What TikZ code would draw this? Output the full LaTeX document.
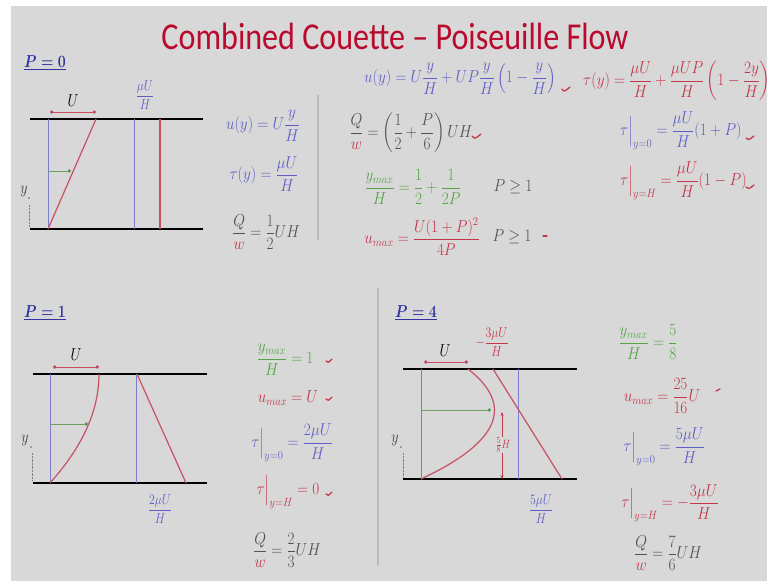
\documentclass[tikz,border=0pt]{standalone}
\usepackage{amsmath}
\usepackage{amssymb}
\usepackage{graphicx}
\usepackage{fontspec}
\newfontfamily\titlefont{Carlito}
\usetikzlibrary{arrows.meta}
\definecolor{bgc}{RGB}{216,216,216}
\definecolor{cB}{RGB}{95,95,200}
\definecolor{cR}{RGB}{195,55,75}
\definecolor{cG}{RGB}{85,165,70}
\definecolor{cK}{RGB}{80,80,90}
\definecolor{cT}{RGB}{185,10,45}
\definecolor{cP}{RGB}{50,50,160}
\definecolor{lB}{RGB}{125,125,205}
\definecolor{lR}{RGB}{200,80,100}
\definecolor{lG}{RGB}{110,160,100}
\definecolor{dv}{RGB}{185,185,185}
\newcommand{\nx}[1]{\scalebox{0.88}[1]{#1}}
\newcommand{\nl}[1]{\scalebox{0.82}[1]{#1}}
\newcommand{\QW}{\dfrac{Q}{\color{cR}w}}
\tikzset{
  plate/.style={line width=2.6pt, black},
  bline/.style={line width=0.9pt, lB},
  rline/.style={line width=1.2pt, lR},
  garrow/.style={line width=0.8pt, lG, -{Circle[length=3.5pt,fill=black!70]}},
  uarrow/.style={line width=1pt, lR, {Circle[length=3.5pt,fill=black!80]}-{Circle[length=3.5pt,fill=black!80]}},
  eq/.style={inner sep=0pt, font=\fontsize{16.5}{19}\selectfont},
  smeq/.style={inner sep=0pt, font=\fontsize{14}{16}\selectfont},
  lbl/.style={inner sep=0pt, font=\fontsize{17}{20}\selectfont},
  plbl/.style={inner sep=0pt, text=cP, font=\fontsize{17.5}{20}\selectfont},
  ydot/.style={line width=0.4pt, black!50, densely dotted},
  tick/.style={line width=1.3pt, cR, line cap=round},
  divider/.style={line width=1.2pt, dv},
  dim/.style={line width=0.9pt, cR, -{Stealth[length=4pt]}}
}
\begin{document}
\begin{tikzpicture}[x=1pt,y=-1pt]
\useasboundingbox (0,0) rectangle (767,581);
\fill[white] (0,0) rectangle (767,581);
\fill[bgc] (11,6) rectangle (767,581);
\clip (0,0) rectangle (767,581);

% title
\node[inner sep=0pt, text=cT, font=\titlefont\fontsize{38}{40}\selectfont] (title) at (395,36) {\scalebox{0.845}[1]{Combined Couette – Poiseuille Flow}};

% ================= P = 0 =================
\node[plbl] (p0) at (45,63) {\nl{$\underline{\boldsymbol{P=0}}$}};
\coordinate (a1) at (30,119); \coordinate (a2) at (203,119);
\coordinate (a3) at (30,229); \coordinate (a4) at (203,229);
\draw[plate] (a1) -- (a2);
\draw[plate] (a3) -- (a4);
\coordinate (aL1) at (48,119); \coordinate (aL0) at (48,229);
\draw[bline] (aL1) -- (aL0);
\coordinate (aU) at (96,119);
\draw[rline] (aL0) -- (aU);
\coordinate (aua) at (50,112); \coordinate (aub) at (96,112);
\draw[uarrow] (aua) -- (aub);
\node[lbl] (aUl) at (73,101) {\nl{$U$}};
\coordinate (aga) at (48,171); \coordinate (agb) at (71,171);
\draw[garrow] (aga) -- (agb);
\node[lbl, text=black!75] (ayl) at (24,191) {\nl{$y$}};
\fill[black!60] (29,198) circle (0.9pt);
\coordinate (ayd1) at (29,205); \coordinate (ayd2) at (29,227);
\draw[ydot] (ayd1) -- (ayd2);
\node[smeq, text=cB] (atl) at (145,95) {\nl{$\dfrac{\mu U}{H}$}};
\coordinate (aB1) at (134,119); \coordinate (aB0) at (134,229);
\draw[bline] (aB1) -- (aB0);
\coordinate (aR1) at (160,119); \coordinate (aR0) at (160,229);
\draw[rline] (aR1) -- (aR0);
\node[eq, text=cB] (ae1) at (263,126) {\nx{$u(y) = U\dfrac{y}{H}$}};
\node[eq, text=cB] (ae2) at (264,174) {\nx{$\tau(y) = \dfrac{\mu U}{H}$}};
\node[eq, text=cK] (ae3) at (266,232) {\nx{$\QW = \dfrac{1}{2}UH$}};
\coordinate (dv1) at (318,95); \coordinate (dv2) at (318,240);
\draw[divider] (dv1) -- (dv2);

% ================= general =================
\node[eq, text=cB] (ge1) at (460,79) {\nx{$u(y) = U\dfrac{y}{H} + UP\dfrac{y}{H}\left(1-\dfrac{y}{H}\right)$}};
\node[eq, text=cK] (ge2) at (411,133) {\nx{$\QW = \left(\dfrac{1}{2}+\dfrac{P}{6}\right)UH$}};
\node[eq, text=cG] (ge3) at (413,187) {\nx{$\dfrac{y_{max}}{H} = \dfrac{1}{2}+\dfrac{1}{2P}$}};
\node[eq, text=cK] (ge3b) at (513,187) {\nx{$P \geq 1$}};
\node[eq, text=cR] (ge4) at (422,237) {\nx{$u_{max} = \dfrac{U(1+P)^2}{4P}$}};
\node[eq, text=cK] (ge4b) at (512,237) {\nx{$P \geq 1$}};
\node[eq, text=cR, anchor=west] (ge5) at (583,81) {\nx{$\tau(y) = \dfrac{\mu U}{H} + \dfrac{\mu UP}{H}\left(1-\dfrac{2y}{H}\right)$}};
\node[eq, text=cB, anchor=west] (ge6) at (620,131) {\nx{$\tau\Big|_{y=0} = \dfrac{\mu U}{H}(1+P)$}};
\node[eq, text=cR, anchor=west] (ge7) at (620,181) {\nx{$\tau\Big|_{y=H} = \dfrac{\mu U}{H}(1-P)$}};
% ticks
\draw[tick] (562,89) .. controls (564,92) .. (570,87);
\draw[tick] (472,136) .. controls (475,139) .. (481,134);
\draw[tick] (543,236) -- (547,236);
\draw[tick] (746,138) .. controls (749,140) .. (754,136);
\draw[tick] (746,187) .. controls (749,189) .. (754,185);

% ================= P = 1 =================
\node[plbl] (p1) at (45,313) {\nl{$\underline{\boldsymbol{P=1}}$}};
\coordinate (b1) at (33,374); \coordinate (b2) at (207,374);
\coordinate (b3) at (33,483); \coordinate (b4) at (207,483);
\draw[plate] (b1) -- (b2);
\draw[plate] (b3) -- (b4);
\coordinate (bL1) at (50,374); \coordinate (bL0) at (50,483);
\draw[bline] (bL1) -- (bL0);
\draw[rline] plot[domain=0:1, samples=40, variable=\t] ({50+49*(2*\t-\t*\t)}, {483-109*\t});
\coordinate (bua) at (53,367); \coordinate (bub) at (99,367);
\draw[uarrow] (bua) -- (bub);
\node[lbl] (bUl) at (76,355) {\nl{$U$}};
\coordinate (bga) at (50,424); \coordinate (bgb) at (88,424);
\draw[garrow] (bga) -- (bgb);
\node[lbl, text=black!75] (byl) at (25,440) {\nl{$y$}};
\fill[black!60] (31,447) circle (0.9pt);
\coordinate (byd1) at (32,453); \coordinate (byd2) at (32,481);
\draw[ydot] (byd1) -- (byd2);
\coordinate (bB1) at (136,374); \coordinate (bB0) at (136,483);
\draw[bline] (bB1) -- (bB0);
\coordinate (bR1) at (137,374); \coordinate (bR0) at (186,483);
\draw[rline] (bR1) -- (bR0);
\node[smeq, text=cB] (btl) at (160,509) {\nl{$\dfrac{2\mu U}{H}$}};
\node[eq, text=cG] (be1) at (285,360) {\nx{$\dfrac{y_{max}}{H} = 1$}};
\node[eq, text=cR] (be2) at (288,398) {\nx{$u_{max} = U$}};
\node[eq, text=cB] (be3) at (292,443) {\nx{$\tau\Big|_{y=0} = \dfrac{2\mu U}{H}$}};
\node[eq, text=cR] (be4) at (288,492) {\nx{$\tau\Big|_{y=H} = 0$}};
\node[eq, text=cK] (be5) at (287,550) {\nx{$\QW = \dfrac{2}{3}UH$}};
\draw[tick] (326,361) .. controls (328,363) .. (332,359);
\draw[tick] (326,399) .. controls (328,401) .. (332,397);
\draw[tick] (326,494) .. controls (328,496) .. (332,492);
\coordinate (dv3) at (378,288); \coordinate (dv4) at (378,565);
\draw[divider] (dv3) -- (dv4);

% ================= P = 4 =================
\node[plbl] (p4) at (416,313) {\nl{$\underline{\boldsymbol{P=4}}$}};
\coordinate (c1) at (403,369); \coordinate (c2) at (577,369);
\coordinate (c3) at (403,479); \coordinate (c4) at (577,479);
\draw[plate] (c1) -- (c2);
\draw[plate] (c3) -- (c4);
\coordinate (cL1) at (421,369); \coordinate (cL0) at (421,479);
\draw[bline] (cL1) -- (cL0);
\draw[rline] plot[domain=0:1, samples=50, variable=\t] ({421+47*(5*\t-4*\t*\t)}, {479-110*\t});
\coordinate (cua) at (424,362); \coordinate (cub) at (468,362);
\draw[uarrow] (cua) -- (cub);
\node[lbl] (cUl) at (445,351) {\nl{$U$}};
\coordinate (cga) at (421,410); \coordinate (cgb) at (491,410);
\draw[garrow] (cga) -- (cgb);
\node[lbl, text=black!75] (cyl) at (395,440) {\nl{$y$}};
\fill[black!60] (401,447) circle (0.9pt);
\coordinate (cyd1) at (403,453); \coordinate (cyd2) at (403,477);
\draw[ydot] (cyd1) -- (cyd2);
\coordinate (cB1) at (518,369); \coordinate (cB0) at (518,479);
\draw[bline] (cB1) -- (cB0);
\coordinate (cR1) at (493,369); \coordinate (cR0) at (562,479);
\draw[rline] (cR1) -- (cR0);
\node[smeq, text=cR] (ctl) at (492,342) {\nl{$-\dfrac{3\mu U}{H}$}};
\node[smeq, text=cB] (cbl) at (541,509) {\nl{$\dfrac{5\mu U}{H}$}};
\node[inner sep=0pt, text=cR, font=\fontsize{12.5}{14}\selectfont] (c58) at (503,445) {\nl{$\frac{5}{8}H$}};
\coordinate (cm1) at (502,412); \coordinate (cm0) at (502,479);
\draw[dim] (c58.north -| cm1) -- (cm1);
\draw[dim] (c58.south -| cm0) -- (cm0);
\node[eq, text=cG] (ce1) at (648,342) {\nx{$\dfrac{y_{max}}{H} = \dfrac{5}{8}$}};
\node[eq, text=cR] (ce2) at (662,396) {\nx{$u_{max} = \dfrac{25}{16}U$}};
\node[eq, text=cB] (ce3) at (664,447) {\nx{$\tau\Big|_{y=0} = \dfrac{5\mu U}{H}$}};
\node[eq, text=cR] (ce4) at (670,503) {\nx{$\tau\Big|_{y=H} = -\dfrac{3\mu U}{H}$}};
\node[eq, text=cK] (ce5) at (668,553) {\nx{$\QW = \dfrac{7}{6}UH$}};
\draw[tick] (716,391) -- (720,389);
\end{tikzpicture}
\end{document}
